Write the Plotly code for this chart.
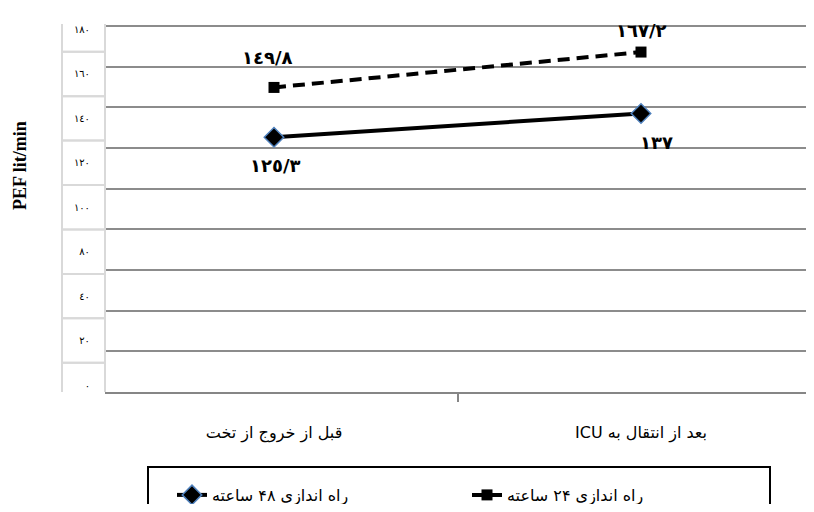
import plotly.graph_objects as go

# ---- data ----
categories = ["قبل از خروج از تخت", "بعد از انتقال به ICU"]
series_24h_name = "راه اندازی ۲۴ ساعته"
series_48h_name = "راه اندازی ۴۸ ساعته"
values_24h = [149.8, 167.2]
values_48h = [125.3, 137]
labels_24h = ["١٤٩/٨", "١٦٧/٢"]
labels_48h = ["١٢٥/٣", "١٣٧"]
ytick_labels = ["٠", "٢٠", "٤٠", "٨٠", "١٠٠", "١٢٠", "١٤٠", "١٦٠", "١٨٠"]
y_title = "PEF lit/min"

RLE, PDF = "\u202b", "\u202c"
def rtl(s):
    return RLE + s + PDF

OFF = 8  # default page body margin
W, H = 814 - 2 * OFF, 512 - 2 * OFF
PLOT_TOP, PLOT_BOTTOM, PLOT_LEFT = 24, 392, 105   # page pixels
L, R, T = PLOT_LEFT - OFF, 0, PLOT_TOP - OFF
B = H - (PLOT_BOTTOM - OFF)
pw, ph = W - L - R, H - T - B
CAT0, CAT_STEP = 274, 367   # page x of first category, px per category
x_lo = -(PLOT_LEFT - CAT0) / CAT_STEP * -1 if False else (PLOT_LEFT - CAT0) / CAT_STEP
x_hi = (OFF + W - CAT0) / CAT_STEP

def px_x(p):  # page pixel -> paper
    return (p - OFF - L) / pw

def px_y(p):
    return (H - B - (p - OFF)) / ph

fig = go.Figure()

# 48h first (legend order left-to-right)
fig.add_trace(go.Scatter(
    x=categories, y=values_48h, name=rtl(series_48h_name), mode="lines+markers",
    line=dict(color="black", width=4),
    marker=dict(symbol="diamond", size=15, color="black",
                line=dict(color="#4F81BD", width=1.5)),
))
fig.add_trace(go.Scatter(
    x=categories, y=values_24h, name=rtl(series_24h_name), mode="lines+markers",
    line=dict(color="black", width=4, dash="12px,7px"),
    marker=dict(symbol="square", size=11, color="black"),
))
# dummy trace to carry the boxed tick-label axis
fig.add_trace(go.Scatter(x=[None], y=[None], yaxis="y2", showlegend=False,
                         hoverinfo="skip"))

annotations = []
shifts_24 = [(-7, 30), (0, 22)]
shifts_48 = [(1, -28), (15, -29)]
lab_font = dict(family="DejaVu Sans", size=18, color="black")
for i, c in enumerate(categories):
    annotations.append(dict(x=c, y=values_24h[i], text="<b>" + labels_24h[i] + "</b>",
                            showarrow=False, xshift=shifts_24[i][0],
                            yshift=shifts_24[i][1], font=lab_font))
    annotations.append(dict(x=c, y=values_48h[i], text="<b>" + labels_48h[i] + "</b>",
                            showarrow=False, xshift=shifts_48[i][0],
                            yshift=shifts_48[i][1], font=lab_font))

annotations.append(dict(xref="paper", yref="paper", x=px_x(20), y=px_y(166),
                        xanchor="center", yanchor="middle",
                        text="<b>" + y_title + "</b>", textangle=-90, showarrow=False,
                        font=dict(family="Liberation Serif", size=18, color="black")))

# y2: boxed label column, label i centred at page y = 385 - i*44.44
y2_lo = -(PLOT_BOTTOM - 385) / 44.44
y2_hi = (385 - PLOT_TOP) / 44.44

shapes = []
for i in range(len(ytick_labels)):
    shapes.append(dict(type="rect", xref="paper", yref="y2",
                       x0=px_x(62), x1=px_x(105), y0=i - 0.5, y1=i + 0.5,
                       line=dict(color="#D9D9D9", width=2),
                       fillcolor="rgba(0,0,0,0)", layer="above"))
# legend frame
shapes.append(dict(type="rect", xref="paper", yref="paper",
                   x0=px_x(148), x1=px_x(770), y0=px_y(467), y1=px_y(530),
                   line=dict(color="black", width=2), fillcolor="rgba(0,0,0,0)"))

fig.update_layout(
    width=W, height=H,
    margin=dict(l=L, r=R, t=T, b=B, autoexpand=False),
    paper_bgcolor="white", plot_bgcolor="white",
    font=dict(family="DejaVu Sans", size=15, color="black"),
    showlegend=True,
    legend=dict(orientation="h", x=px_x(172), xanchor="left", y=px_y(478),
                yanchor="top", bgcolor="rgba(0,0,0,0)", borderwidth=0,
                entrywidth=250, entrywidthmode="pixels",
                font=dict(family="DejaVu Sans", size=16, color="black")),
    xaxis=dict(type="category", range=[x_lo, x_hi], showgrid=False,
               showline=True, linecolor="#868686", linewidth=1.5,
               ticks="outside", tickson="boundaries", ticklen=8,
               tickcolor="#868686", tickwidth=1.5,
               ticklabelstandoff=25,
               ticktext=[rtl(c) for c in categories], tickvals=categories,
               tickfont=dict(family="DejaVu Sans", size=16, color="black"),
               zeroline=False),
    yaxis=dict(range=[0, 181], tickvals=list(range(0, 181, 20)),
               showticklabels=False, ticks="", showgrid=True,
               gridcolor="#8C8C8C", gridwidth=1.5, zeroline=False,
               showline=False),
    yaxis2=dict(overlaying="y", side="left", range=[y2_lo, y2_hi],
                tickvals=list(range(len(ytick_labels))), ticktext=ytick_labels,
                showgrid=False, zeroline=False, showline=False, ticks="",
                tickfont=dict(family="DejaVu Sans", size=10, color="black"),
                ticklabelstandoff=14),
    annotations=annotations,
    shapes=shapes,
)

fig.write_html("out.html")
